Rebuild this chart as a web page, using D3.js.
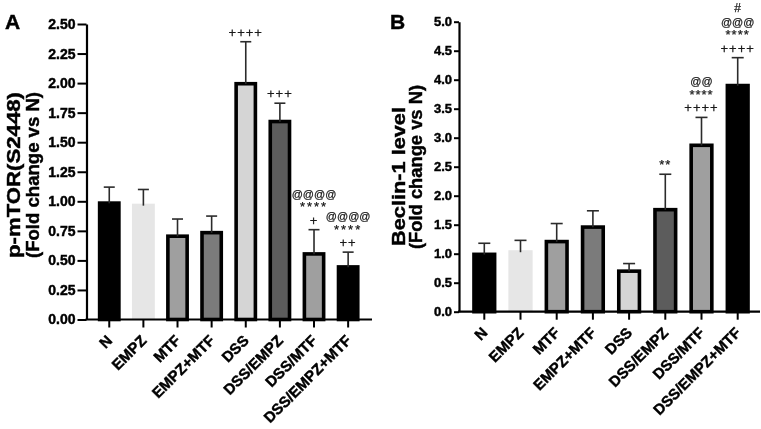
<!DOCTYPE html>
<html>
<head>
<meta charset="utf-8">
<script src="https://cdn.jsdelivr.net/npm/d3@7"></script>
<style>
  body { margin: 0; background: #fff; }
  svg { display: block; will-change: transform; }
  svg text { font-family: "Liberation Sans", Arial, sans-serif; }
  .heavy { font-weight: bold; stroke: #000; stroke-width: 0.45px; paint-order: stroke; }
</style>
</head>
<body>
<svg id="chart" width="761" height="429"></svg>
<script>
// groups shared by both panels
const groups = ['N', 'EMPZ', 'MTF', 'EMPZ+MTF', 'DSS', 'DSS/EMPZ', 'DSS/MTF', 'DSS/EMPZ+MTF'];
const barFills = ['#000000', '#e6e6e6', '#9f9f9f', '#7b7b7b', '#d5d5d5', '#5c5c5c', '#9f9f9f', '#000000'];
const outlined = [true, false, true, true, true, true, true, true];

// panel A: p-mTOR(S2448)
const mtorMean = [1.00, 0.98, 0.72, 0.75, 2.01, 1.69, 0.57, 0.46];
const mtorSD   = [0.12, 0.12, 0.13, 0.125, 0.34, 0.14, 0.19, 0.11];
const mtorSig  = [[], [], [], [], ['++++'], ['+++'], ['@@@@', '****', '+'], ['@@@@', '****', '++']];
const mtorTicks = [0, 0.25, 0.5, 0.75, 1, 1.25, 1.5, 1.75, 2, 2.25, 2.5];

// panel B: Beclin-1
const beclinMean = [1.02, 1.06, 1.24, 1.49, 0.73, 1.79, 2.90, 3.93];
const beclinSD   = [0.16, 0.17, 0.28, 0.25, 0.10, 0.58, 0.45, 0.45];
const beclinSig  = [[], [], [], [], [], ['**'], ['@@', '****', '++++'], ['#', '@@@', '****', '++++']];
const beclinTicks = [0, 0.5, 1, 1.5, 2, 2.5, 3, 3.5, 4, 4.5, 5];

const svg = d3.select('#chart');

function drawPanel(p) {
    const g = svg.append('g');

    const y = d3.scaleLinear().domain([0, p.yMax]).range([p.y0, p.y1]);
    const x = d3.scaleBand().domain(groups).range(p.band).paddingInner(0.33).paddingOuter(0.165);

    // bars
    const sw = 3.6;
    g.selectAll('rect.bar')
        .data(groups)
        .join('rect')
        .attr('class', 'bar')
        .attr('x', (d, i) => x(d) + (outlined[i] ? sw / 2 : 0))
        .attr('width', (d, i) => x.bandwidth() - (outlined[i] ? sw : 0))
        .attr('y', (d, i) => y(p.mean[i]) + (outlined[i] ? sw / 2 : 0))
        .attr('height', (d, i) => y(0) - y(p.mean[i]) - (outlined[i] ? sw / 2 : 0))
        .attr('fill', (d, i) => barFills[i])
        .attr('stroke', (d, i) => outlined[i] ? '#000' : 'none')
        .attr('stroke-width', sw);

    // upper error whiskers
    const eb = g.selectAll('g.err').data(groups).join('g').attr('class', 'err')
        .attr('stroke', '#2b2b2b').attr('stroke-width', 1.6);
    eb.append('line')
        .attr('x1', d => x(d) + x.bandwidth() / 2).attr('x2', d => x(d) + x.bandwidth() / 2)
        .attr('y1', (d, i) => y(p.mean[i]) + 2)
        .attr('y2', (d, i) => y(p.mean[i] + p.sd[i]));
    eb.append('line')
        .attr('x1', d => x(d) + x.bandwidth() / 2 - p.cap).attr('x2', d => x(d) + x.bandwidth() / 2 + p.cap)
        .attr('y1', (d, i) => y(p.mean[i] + p.sd[i]))
        .attr('y2', (d, i) => y(p.mean[i] + p.sd[i]));

    // significance marks stacked above each whisker
    groups.forEach((d, i) => {
        const lines = p.sig[i];
        const top = y(p.mean[i] + p.sd[i]);
        lines.forEach((s, k) => {
            const fromBottom = lines.length - 1 - k;
            const ch = s[0];
            g.append('text')
                .attr('x', x(d) + x.bandwidth() / 2)
                .attr('y', top - 5 - fromBottom * 13.5)
                .attr('text-anchor', 'middle')
                .attr('fill', '#1a1a1a')
                .attr('stroke', '#1a1a1a').attr('stroke-width', 0.25)
                .style('font-size', ch === '@' ? '11px' : (ch === '#' ? '12px' : '13px'))
                .style('letter-spacing', ch === '+' ? '1px' : (ch === '*' ? p.starSpace : '0px'))
                .text(s);
        });
    });

    // y axis
    const ya = g.append('g')
        .attr('transform', `translate(${p.axisX},0)`)
        .call(d3.axisLeft(y).tickValues(p.ticks).tickFormat(d3.format(p.fmt)).tickSize(p.tickLen).tickSizeOuter(0).tickPadding(2));
    ya.attr('font-family', null);
    ya.select('.domain').attr('stroke-width', 2.2);
    ya.selectAll('.tick line').attr('stroke-width', 2);
    ya.selectAll('.tick text')
        .attr('class', 'heavy')
        .style('font-size', p.tickFont).attr('fill', '#000');

    // x axis
    const xa = g.append('g')
        .attr('transform', `translate(0,${p.y0})`)
        .call(d3.axisBottom(x).tickSize(8).tickSizeOuter(0));
    xa.attr('font-family', null);
    xa.select('.domain').remove();
    xa.append('line')
        .attr('x1', p.axisX - 1).attr('x2', p.axisEnd)
        .attr('stroke', '#000').attr('stroke-width', 2.2);
    xa.selectAll('.tick line').attr('stroke-width', 2);
    xa.selectAll('.tick text')
        .attr('class', 'heavy')
        .attr('y', 0).attr('dy', 0)
        .attr('transform', 'translate(4,22) rotate(-45)')
        .attr('text-anchor', 'end')
        .attr('fill', '#000')
        .style('font-size', '15px');

    // axis title (two lines)
    p.title.forEach(t => {
        g.append('text')
            .attr('class', 'heavy')
            .attr('transform', `translate(${t.x},${t.cy}) rotate(-90)`)
            .attr('text-anchor', 'middle')
            .attr('textLength', t.len)
            .attr('lengthAdjust', 'spacingAndGlyphs')
            .style('font-size', '19px')
            .text(t.text);
    });

    // panel letter
    g.append('text')
        .attr('class', 'heavy')
        .attr('x', p.letterX).attr('y', p.letterY)
        .style('font-size', '21px')
        .text(p.letter);
}

drawPanel({
    letter: 'A', letterX: 5, letterY: 29,
    mean: mtorMean, sd: mtorSD, sig: mtorSig, ticks: mtorTicks, fmt: '.2f', yMax: 2.5,
    y0: 319.5, y1: 24, axisX: 86.5, axisEnd: 372, band: [92.2, 365.2],
    tickLen: 9, tickFont: '14px', cap: 5.5, starSpace: '2px',
    title: [
        { text: 'p-mTOR(S2448)', x: 19.5, cy: 175, len: 166 },
        { text: '(Fold change vs N)', x: 38.5, cy: 175, len: 166 }
    ]
});

drawPanel({
    letter: 'B', letterX: 390, letterY: 28.5,
    mean: beclinMean, sd: beclinSD, sig: beclinSig, ticks: beclinTicks, fmt: '.1f', yMax: 5,
    y0: 311.7, y1: 21.7, axisX: 459, axisEnd: 760, band: [466.2, 755.8],
    tickLen: 5, tickFont: '13px', cap: 6, starSpace: '1px',
    title: [
        { text: 'Beclin-1 level', x: 404.5, cy: 176.5, len: 139 },
        { text: '(Fold change vs N)', x: 421.5, cy: 167, len: 164 }
    ]
});
</script>
</body>
</html>
